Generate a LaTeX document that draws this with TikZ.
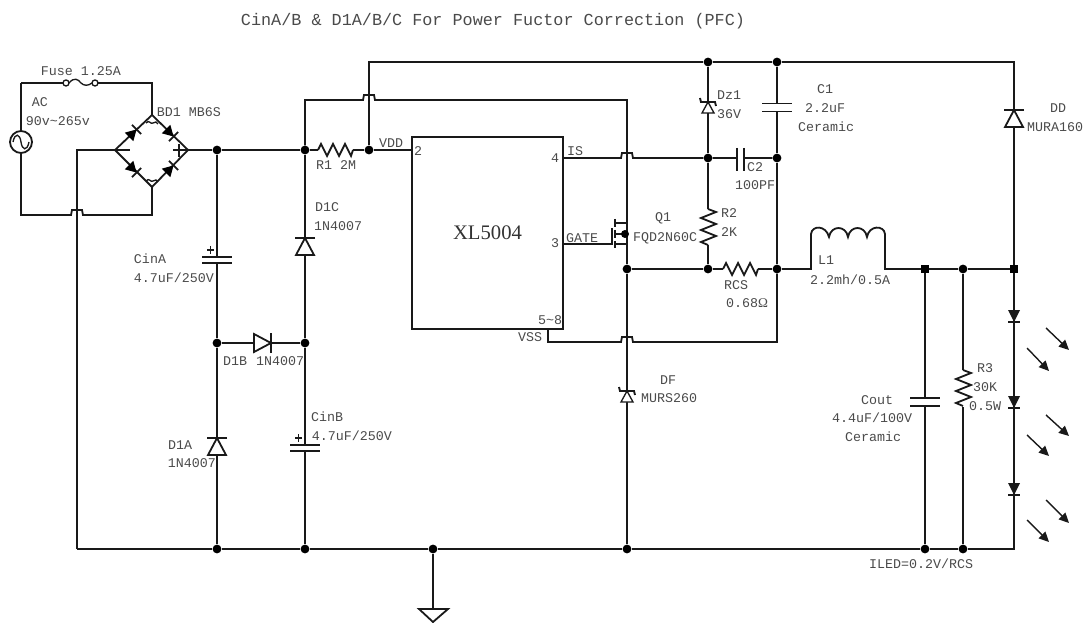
\documentclass[tikz,border=0pt]{standalone}
\usepackage{fontspec}
\setmainfont{Liberation Mono}
\newfontfamily\chipfont{Liberation Serif}
\usetikzlibrary{arrows.meta}
\definecolor{lbl}{HTML}{4A4A4A}
\tikzset{
 x=0.75pt,y=-0.75pt,
 wire/.style={line width=1.35pt,black!90,line join=miter},
 thin wire/.style={line width=1pt,black!90},
 dot/.style={circle,fill=black,inner sep=0pt,minimum size=6.6pt},
 sqdot/.style={rectangle,fill=black,inner sep=0pt,minimum size=5.8pt},
 lab/.style={text=lbl,font=\fontsize{10}{12}\selectfont,inner sep=0pt},
 plate/.style={line width=1.4pt,black!90},
 led arrow/.style={line width=1.05pt,black!90,-{Triangle[length=7.5pt,width=7pt]}},
 pics/dio/.style={code={
   \draw[wire,fill=white] (-9,-9) -- (9,-9) -- (0,8) -- cycle;
   \draw[plate] (-10,8) -- (10,8);}},
 pics/zen/.style={code={
   \draw[thin wire,fill=white] (-6,12) -- (6,12) -- (0,1) -- cycle;
   \draw[plate] (-8,-3) -- (-7,1) -- (7,1) -- (8,5);}},
 pics/led/.style={code={
   \fill[black!90] (-6,-6) -- (6,-6) -- (0,6) -- cycle;
   \draw[plate] (-6,6) -- (6,6);}},
 pics/brd/.style={code={
   \fill[black] (-5.5,-6) -- (-5.5,6) -- (5,0) -- cycle;
   \draw[plate] (5,-6.5) -- (5,6.5);}},
 pics/polcap/.style={code={
   \fill[white] (-15,-3) rectangle (15,3);
   \draw[plate] (-15,-3) -- (15,-3) (-15,3) -- (15,3);
   \draw[thin wire] (-10,-10) -- (-3,-10) (-6.5,-14) -- (-6.5,-6);}},
 pics/capv/.style={code={
   \fill[white] (-15,-4) rectangle (15,4);
   \draw[plate] (-15,-4) -- (15,-4) (-15,4) -- (15,4);}},
}
\newcommand{\hopH}[1]{-- ([shift={(-6,0)}]#1) -- ([shift={(-5,-5)}]#1) -- ([shift={(5,-5)}]#1) -- ([shift={(6,0)}]#1)}
\newcommand{\resH}[1]{\draw[wire] (#1) -- ++(3,-6) -- ++(6,12) -- ++(6,-12) -- ++(6,12) -- ++(6,-12) -- ++(6,12) -- ++(2,-6);}
\newcommand{\resV}[1]{\draw[wire] (#1) -- ++(8,3) -- ++(-15,6) -- ++(15,6) -- ++(-15,6) -- ++(15,6) -- ++(-15,6) -- ++(7,3);}
\begin{document}
\begin{tikzpicture}
\useasboundingbox (0,0) rectangle (1087,623);
% junctions
\node[dot] (jTa) at (708,62) {};
\node[dot] (jTb) at (777,62) {};
\node[dot] (jIn) at (217,150) {};
\node[dot] (jVc) at (305,150) {};
\node[dot] (jVd) at (369,150) {};
\node[dot] (jMa) at (217,343) {};
\node[dot] (jMb) at (305,343) {};
\node[dot] (jIs) at (708,158) {};
\node[dot] (jC) at (777,158) {};
\node[dot] (jS) at (627,269) {};
\node[dot] (jR) at (708,269) {};
\node[dot] (jL) at (777,269) {};
\node[sqdot] (jOa) at (925,269) {};
\node[dot] (jOb) at (963,269) {};
\node[sqdot] (jOc) at (1014,269) {};
\node[dot] (jBa) at (217,549) {};
\node[dot] (jBb) at (305,549) {};
\node[dot] (jBg) at (433,549) {};
\node[dot] (jBq) at (627,549) {};
\node[dot] (jBc) at (925,549) {};
\node[dot] (jBr) at (963,549) {};
% free points
\coordinate (acTop) at (21,83); \coordinate (acBot) at (21,215);
\coordinate (srcT) at (21,131); \coordinate (srcB) at (21,153);
\coordinate (fuA) at (66,83); \coordinate (fuB) at (95,83);
\coordinate (brT) at (152,115); \coordinate (brB) at (152,187);
\coordinate (brL) at (115,150); \coordinate (brR) at (188,150);
\coordinate (brTw) at (152,83); \coordinate (brBw) at (152,215);
\coordinate (leftT) at (77,150); \coordinate (leftB) at (77,549);
\coordinate (hAC) at (77,215);
\coordinate (r1a) at (318,150); \coordinate (r1b) at (353,150);
\coordinate (railL) at (305,100); \coordinate (railR) at (627,100);
\coordinate (hRail) at (369,100); \coordinate (topL) at (369,62);
\coordinate (topR) at (1014,62); \coordinate (botR) at (1014,549);
\coordinate (hIs) at (627,158); \coordinate (hVss) at (627,342);
\coordinate (vssA) at (548,329); \coordinate (vssB) at (548,342); \coordinate (vssC) at (777,342);
\coordinate (dr) at (627,223); \coordinate (drb) at (614,223);
\coordinate (so) at (627,244); \coordinate (sob) at (614,244);
\coordinate (gt) at (612,244); \coordinate (bd) at (627,234);
\coordinate (r2a) at (708,209); \coordinate (r2b) at (708,245);
\coordinate (rcsA) at (723,269); \coordinate (rcsB) at (758,269);
\coordinate (lA) at (811,269); \coordinate (lB) at (885,269);
\coordinate (lAt) at (811,234); \coordinate (lBt) at (885,234);
\coordinate (r3a) at (963,370); \coordinate (r3b) at (963,407);
\coordinate (gnd) at (433,609);
% chip
\node[draw,wire,minimum width=113.25pt,minimum height=144pt,inner sep=0pt,outer sep=0pt,anchor=north west,
  font=\chipfont\fontsize{15.5}{18}\selectfont,text=black!80] (chip) at (412,137) {XL5004};
\coordinate (pin2) at (412,150); \coordinate (pin4) at (563,158); \coordinate (pin3) at (563,244);
% wires
\draw[wire] (acTop) -- (fuA); \draw[wire] (fuB) -- (brTw) -- (brT);
\draw[wire] (acTop) -- (srcT); \draw[wire] (srcB) -- (acBot) \hopH{hAC} -- (brBw) -- (brB);
\draw[wire] (brL) -- (leftT) -- (leftB);
\draw[wire] (brR) -- (jIn) -- (jVc) -- (r1a);
\draw[wire] (r1b) -- (jVd) -- (pin2);
\draw[wire] (jVc) -- (railL) \hopH{hRail} -- (railR) -- (dr) -- (drb);
\draw[wire] (jVd) -- (topL) -- (jTa) -- (jTb) -- (topR) -- (jOc) -- (botR) -- (jBr) -- (jBc) -- (jBq) -- (jBg) -- (jBb) -- (jBa) -- (leftB);
\draw[wire] (pin4) \hopH{hIs} -- (jIs) -- (jC);
\draw[wire] (pin3) -- (gt);
\draw[wire] (sob) -- (so) -- (dr);
\draw[wire] (so) -- (jS) -- (jBq);
\draw[wire] (jS) -- (jR) -- (rcsA); \draw[wire] (rcsB) -- (jL) -- (lA) -- (lAt);
\draw[wire] (lBt) -- (lB) -- (jOa) -- (jOb) -- (jOc);
\draw[wire] (vssA) -- (vssB) \hopH{hVss} -- (vssC) -- (jL);
\draw[wire] (jTb) -- (jC) -- (jL);
\draw[wire] (jTa) -- (jIs) -- (r2a); \draw[wire] (r2b) -- (jR);
\draw[wire] (jIn) -- (jMa) -- (jBa);
\draw[wire] (jVc) -- (jMb) -- (jBb);
\draw[wire] (jMa) -- (jMb);
\draw[wire] (jOa) -- (jBc);
\draw[wire] (jOb) -- (r3a); \draw[wire] (r3b) -- (jBr);
\draw[wire] (jBg) -- (gnd);
% ground
\draw[wire] (419,609) -- (448,609) -- (433,622) -- cycle;
% resistors
\resH{r1a} \resH{rcsA} \resV{r2a} \resV{r3a}
% inductor
\draw[wire] (lAt) .. controls (812,225) and (826,225) .. (829,237) .. controls (831,225) and (846,225) .. (848,237) .. controls (850,225) and (865,225) .. (867,237) .. controls (869,225) and (884,225) .. (lBt);
% fuse
\draw[thin wire,fill=white] (fuA) circle[radius=3]; \draw[thin wire,fill=white] (fuB) circle[radius=3];
\draw[thin wire] (69,83) .. controls (74,77) and (78,79) .. (81,83) .. controls (84,86) and (88,86) .. (92,83);
% source
\draw[wire] (21,142) circle[radius=11];
\draw[thin wire] (13,142) .. controls (15,132) and (20,134) .. (21,142) .. controls (22,150) and (27,152) .. (29,142);
% bridge
\draw[wire] (brT) -- (brR) -- (brB) -- (brL) -- cycle;
\pic[rotate=45] at (133,133) {brd};
\pic[rotate=-45] at (170,133) {brd};
\pic[rotate=-45] at (133,169) {brd};
\pic[rotate=45] at (170,169) {brd};
\draw[thin wire] (116,150) -- (130,150) (173,150) -- (187,150) (179,144) -- (179,157);
\draw[thin wire] (146,123) .. controls (149,119) and (151,125) .. (153,123) .. controls (155,121) and (157,122) .. (158,124);
\draw[thin wire] (146,181) .. controls (149,177) and (151,183) .. (153,181) .. controls (155,179) and (157,180) .. (158,182);
% diodes
\pic[rotate=180] at (305,246) {dio};
\pic[rotate=180] at (217,446) {dio};
\pic[rotate=90] at (263,343) {dio};
\pic[rotate=180] at (1014,118) {dio};
\pic at (708,101) {zen};
\pic at (627,390) {zen};
\pic at (1014,316) {led}; \pic at (1014,402) {led}; \pic at (1014,489) {led};
% capacitors
\pic at (217,260) {polcap};
\pic at (305,448) {polcap};
\pic at (777,107.5) {capv};
\pic at (925,402) {capv};
\fill[white] (737,150) rectangle (744,166);
\draw[plate] (737,148) -- (737,171) (744,148) -- (744,171);
% mosfet
\draw[plate] (612,228) -- (612,245);
\draw[plate] (615,219) -- (615,227) (615,230) -- (615,238) (615,241) -- (615,248);
\draw[wire] (615,234) -- (bd);
\fill[black] (625,234) circle[radius=4];
% LED arrows
\draw[led arrow] (1046,328) -- (1069,350); \draw[led arrow] (1027,348) -- (1049,371);
\draw[led arrow] (1046,415) -- (1069,436); \draw[led arrow] (1027,435) -- (1049,456);
\draw[led arrow] (1046,500) -- (1069,523); \draw[led arrow] (1027,520) -- (1049,542);
% labels
\node[lab,font=\fontsize{12.6}{15}\selectfont] (tTitle) at (493,21) {CinA/B \& D1A/B/C For Power Fuctor Correction (PFC)};
\node[lab] (tFuse) at (81,71) {Fuse 1.25A};
\node[lab] (tAC) at (40,102) {AC};
\node[lab] (tAC2) at (58,121) {90v\textasciitilde265v};
\node[lab] (tBD) at (189,112) {BD1 MB6S};
\node[lab] (tR1) at (336,165) {R1 2M};
\node[lab] (tVDD) at (391,143) {VDD};
\node[lab] (t2) at (418,151) {2};
\node[lab] (t4) at (555,158) {4};
\node[lab] (t3) at (555,243) {3};
\node[lab] (tIS) at (575,151) {IS};
\node[lab] (tGATE) at (582,238) {GATE};
\node[lab] (t58) at (550,320) {5\textasciitilde8};
\node[lab] (tVSS) at (530,337) {VSS};
\node[lab] (tQ1) at (663,218) {Q1};
\node[lab] (tQ1b) at (665,238) {FQD2N60C};
\node[lab] (tDz) at (729,95) {Dz1};
\node[lab] (t36) at (729,114) {36V};
\node[lab] (tC1) at (825,89) {C1};
\node[lab] (tC1b) at (825,108) {2.2uF};
\node[lab] (tC1c) at (826,127) {Ceramic};
\node[lab] (tC2) at (755,167) {C2};
\node[lab] (tC2b) at (755,185) {100PF};
\node[lab] (tR2) at (729,213) {R2};
\node[lab] (tR2b) at (729,232) {2K};
\node[lab] (tRCS) at (736,285) {RCS};
\node[lab] (tRCSb) at (747,303) {0.68\fontspec{Liberation Serif}Ω};
\node[lab] (tL1) at (826,260) {L1};
\node[lab] (tL1b) at (850,280) {2.2mh/0.5A};
\node[lab] (tDD) at (1058,108) {DD};
\node[lab] (tDDb) at (1055,127) {MURA160};
\node[lab] (tDF) at (668,380) {DF};
\node[lab] (tDFb) at (669,398) {MURS260};
\node[lab] (tD1C) at (327,207) {D1C};
\node[lab] (tD1Cb) at (338,226) {1N4007};
\node[lab] (tCA) at (150,259) {CinA};
\node[lab] (tCAb) at (174,278) {4.7uF/250V};
\node[lab] (tD1B) at (235,361) {D1B};
\node[lab] (tD1Bb) at (280,361) {1N4007};
\node[lab] (tCB) at (327,417) {CinB};
\node[lab] (tCBb) at (352,436) {4.7uF/250V};
\node[lab] (tD1A) at (180,445) {D1A};
\node[lab] (tD1Ab) at (192,463) {1N4007};
\node[lab] (tCo) at (877,400) {Cout};
\node[lab] (tCob) at (872,418) {4.4uF/100V};
\node[lab] (tCoc) at (873,437) {Ceramic};
\node[lab] (tR3) at (985,368) {R3};
\node[lab] (tR3b) at (985,387) {30K};
\node[lab] (tR3c) at (985,406) {0.5W};
\node[lab] (tI) at (921,564) {ILED=0.2V/RCS};
\end{tikzpicture}
\end{document}
